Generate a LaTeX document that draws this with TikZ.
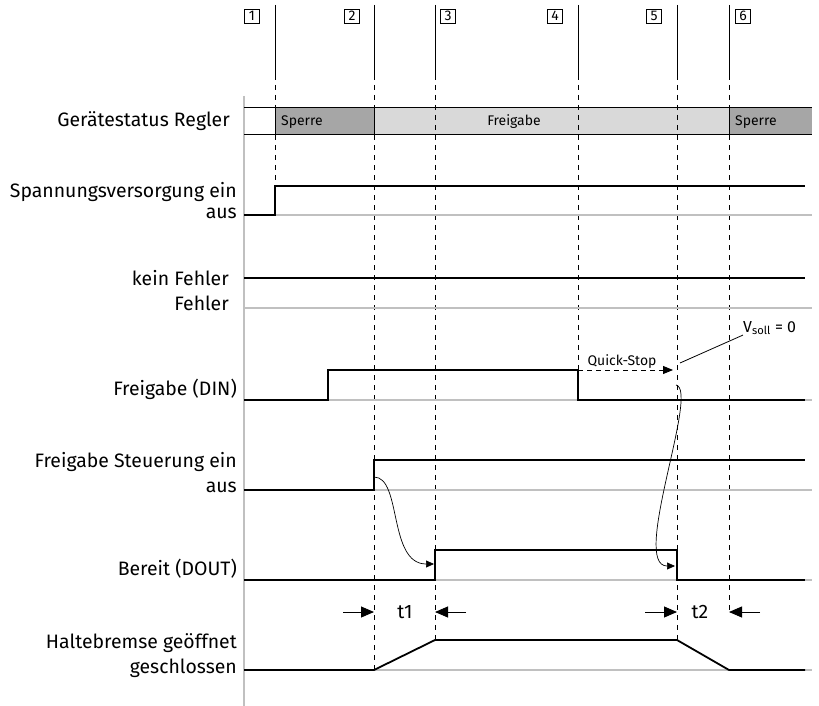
\documentclass[tikz,border=0pt]{standalone}
\usepackage{fontspec}
\setmainfont{Fira Sans}
\usetikzlibrary{arrows.meta}
\definecolor{sperregray}{RGB}{166,166,166}
\definecolor{freigray}{RGB}{217,217,217}
\definecolor{linegray}{RGB}{192,192,192}
\begin{document}
\begin{tikzpicture}[x=1bp,y=-1bp,
  sig/.style={line width=1.8pt},
  base/.style={line width=1.1pt,linegray},
  marker/.style={line width=0.8pt},
  dmarker/.style={line width=0.9pt,dash pattern=on 5bp off 5bp},
  lbl/.style={anchor=base east,inner sep=0pt,font=\fontsize{19.5}{20}\selectfont},
  small/.style={inner sep=0pt,font=\fontsize{14}{14}\selectfont},
  numbox/.style={draw,line width=0.6pt,minimum width=15bp,minimum height=14bp,inner sep=0pt,font=\fontsize{14}{14}\selectfont},
  tarrow/.style={line width=0.9pt,-{Triangle[length=13bp,width=11bp]}},
  carrow/.style={line width=0.7pt,-{Triangle[length=8bp,width=7bp]}}]
\useasboundingbox (0,0) rectangle (819,706);
% axis
\draw[line width=2pt,linegray] (244,96) -- (244,706);
% status bar
\fill[sperregray] (275,107) rectangle (374,134);
\fill[freigray] (374,107) rectangle (729,134);
\fill[sperregray] (729,107) rectangle (812,134);
\draw[marker] (244,107) -- (812,107) (244,134) -- (812,134);
\draw[marker] (275,107) -- (275,134) (374,107) -- (374,134) (729,107) -- (729,134);
\node[small,anchor=base west] (sp1) at (281,126) {Sperre};
\node[small,anchor=base] (fg) at (514,126) {Freigabe};
\node[small,anchor=base west] (sp2) at (735,126) {Sperre};
% markers
\foreach \n/\x/\bx/\e in {1/275/252/186,2/374/352/670,3/435/448/640,4/578/555/370,5/677/654/640,6/729/743/612}{
  \node[numbox] (n\n) at (\bx,16) {\n};
  \draw[marker] (\x,5) -- (\x,75);
  \draw[dmarker] (\x,75) -- (\x,\e);
}
% baselines
\foreach \y in {215,308,400,490,580,670}
  \draw[base] (244,\y) -- (812,\y);
% signals
\draw[sig] (244,215) -- (275,215) -- (275,186) -- (805,186);
\draw[sig] (244,278) -- (805,278);
\draw[sig] (244,400) -- (328,400) -- (328,370) -- (578,370) -- (578,400) -- (805,400);
\draw[sig] (244,490) -- (374,490) -- (374,460) -- (805,460);
\draw[sig] (244,580) -- (435,580) -- (435,550) -- (677,550) -- (677,580) -- (805,580);
\draw[sig] (244,670) -- (374,670) -- (435,640) -- (677,640) -- (729,670) -- (805,670);
% labels
\node[lbl] (gs) at (230,127) {Gerätestatus Regler};
\node[lbl] (sv) at (237,197) {Spannungsversorgung ein};
\node[lbl] (sva) at (237,218) {aus};
\node[lbl] (kf) at (229,285) {kein Fehler};
\node[lbl] (f) at (229,310) {Fehler};
\node[lbl] (din) at (237,395) {Freigabe (DIN)};
\node[lbl] (st) at (237,467) {Freigabe Steuerung ein};
\node[lbl] (sta) at (237,492) {aus};
\node[lbl] (dout) at (237,575) {Bereit (DOUT)};
\node[lbl] (hb) at (237,648) {Haltebremse geöffnet};
\node[lbl] (hbg) at (237,673) {geschlossen};
% quick stop
\coordinate (qs0) at (578,370);
\coordinate (qs1) at (673,370);
\draw[line width=0.9pt,dash pattern=on 5bp off 4bp,-{Triangle[length=10bp,width=8bp]}] (qs0) -- (qs1);
\node[small,anchor=base] (qs) at (622,365) {Quick-Stop};
\node[small,anchor=west,font=\fontsize{16}{16}\selectfont] (vs) at (743,328) {V\textsubscript{soll} = 0};
\coordinate (vs0) at (680,363);
\draw[line width=0.8pt] (vs0) -- (vs.south west);
% curved arrows
\coordinate (c1a) at (374,477);
\coordinate (c1b) at (434,564);
\draw[carrow] (c1a) .. controls (402,477) and (388,564) .. (c1b);
\coordinate (c2a) at (676,385);
\coordinate (c2b) at (675,566);
\draw[carrow] (c2a) .. controls (700,390) and (630,566) .. (c2b);
% delays
\coordinate (t1a) at (343,612);
\coordinate (t1b) at (466,612);
\draw[tarrow] (t1a) -- (374,612);
\draw[tarrow] (t1b) -- (435,612);
\node[font=\fontsize{19.5}{20}\selectfont] (t1) at (405,612) {t1};
\coordinate (t2a) at (645,612);
\coordinate (t2b) at (760,612);
\draw[tarrow] (t2a) -- (677,612);
\draw[tarrow] (t2b) -- (729,612);
\node[font=\fontsize{19.5}{20}\selectfont] (t2) at (700,612) {t2};
\end{tikzpicture}
\end{document}
